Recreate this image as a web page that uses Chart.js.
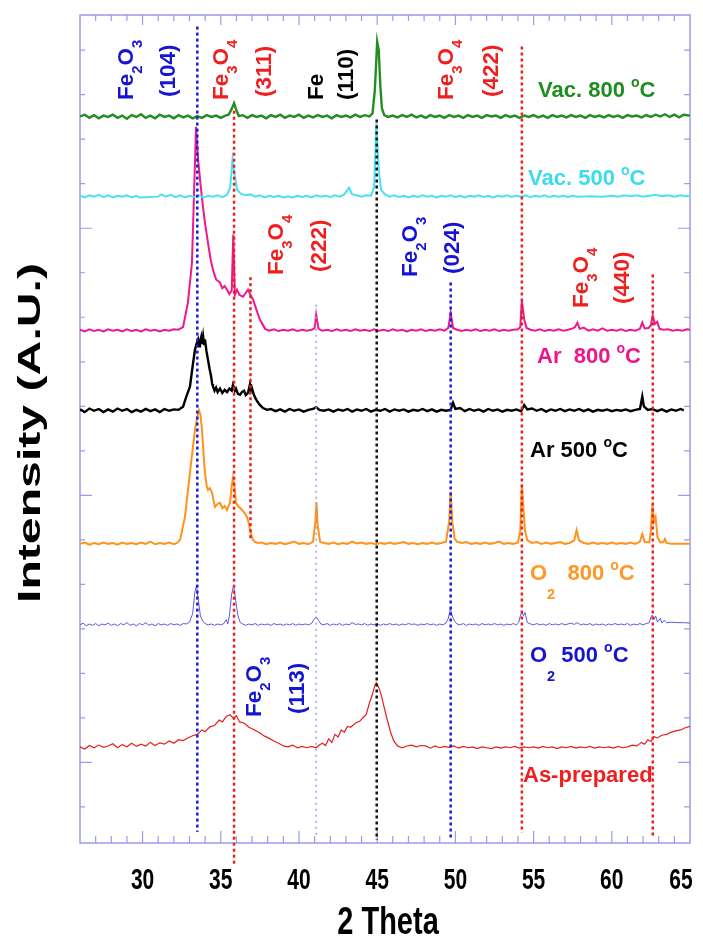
<!DOCTYPE html>
<html>
<head>
<meta charset="utf-8">
<script src="https://cdn.jsdelivr.net/npm/chart.js@4.4.0/dist/chart.umd.min.js"></script>
<style>
  body { margin: 0; background: #fff; }
  #caja { width: 703px; height: 940px; position: relative; }
</style>
</head>
<body>
<div id="caja"><canvas id="grafico"></canvas></div>
<script>
// 2 theta vs intensity, each pattern is shifted up by its baseline
const xTickLabels = [30, 35, 40, 45, 50, 55, 60, 65];
const seriesNames = ["Vac. 800 °C", "Vac. 500 °C", "Ar 800 °C", "Ar 500 °C", "O2 800 °C", "O2 500 °C", "As-prepared"];
const baselines = [15.5, 13.71, 10.7, 8.9, 5.91, 4.09, 1.33];

const vac800 = [[26.0,0.01],[26.3,0.05],[26.6,-0.02],[26.9,0.04],[27.2,-0.03],[27.5,0.03],[27.8,0.0],[28.1,0.05],[28.4,-0.02],[28.7,0.03],[29.0,-0.04],[29.3,0.04],[29.6,0.0],[29.9,0.06],[30.2,-0.02],[30.5,0.03],[30.8,-0.03],[31.1,0.05],[31.4,0.0],[31.7,0.03],[32.0,-0.03],[32.3,0.04],[32.6,-0.01],[32.9,0.03],[33.2,-0.03],[33.5,0.02],[33.8,-0.02],[34.1,0.04],[34.4,0.0],[34.7,0.03],[35.0,-0.02],[35.3,0.03],[35.5,0.05],[35.7,0.18],[35.85,0.31],[36.0,0.15],[36.15,0.02],[36.4,0.04],[36.7,-0.02],[37.0,0.04],[37.3,0.0],[37.6,0.03],[37.9,-0.03],[38.2,0.04],[38.5,0.0],[38.8,0.05],[39.1,-0.02],[39.4,0.03],[39.7,0.0],[40.0,0.05],[40.3,-0.02],[40.6,0.03],[40.9,-0.01],[41.2,0.04],[41.5,0.0],[41.8,0.03],[42.1,-0.03],[42.4,0.04],[42.7,0.0],[43.0,0.03],[43.3,-0.01],[43.6,0.05],[43.9,0.0],[44.2,0.04],[44.5,0.01],[44.7,0.08],[44.85,0.6],[45.0,1.69],[45.1,1.5],[45.2,0.7],[45.3,0.2],[45.45,0.04],[45.7,0.0],[46.0,0.03],[46.3,-0.01],[46.6,0.04],[46.9,0.0],[47.2,0.05],[47.5,-0.01],[47.8,0.03],[48.1,-0.02],[48.4,0.04],[48.7,0.0],[49.0,0.03],[49.3,-0.02],[49.6,0.04],[49.9,0.0],[50.2,0.03],[50.5,-0.02],[50.8,0.04],[51.1,0.0],[51.4,0.03],[51.7,-0.02],[52.0,0.04],[52.3,0.01],[52.6,0.03],[52.9,-0.02],[53.2,0.04],[53.5,0.0],[53.8,0.03],[54.1,-0.02],[54.4,0.03],[54.7,0.0],[55.0,0.04],[55.3,-0.01],[55.6,0.03],[55.9,-0.02],[56.2,0.04],[56.5,0.0],[56.8,0.03],[57.1,-0.01],[57.4,0.04],[57.7,0.0],[58.0,0.03],[58.3,-0.02],[58.6,0.04],[58.9,0.0],[59.2,0.03],[59.5,-0.01],[59.8,0.04],[60.1,0.0],[60.4,0.03],[60.7,-0.02],[61.0,0.04],[61.3,0.01],[61.6,0.03],[61.9,-0.01],[62.2,0.04],[62.5,0.0],[62.8,0.05],[63.1,0.01],[63.4,0.06],[63.7,0.0],[64.0,0.05],[64.3,-0.01],[64.6,0.05],[65.0,0.03]];

const vac500 = [[26.0,0.02],[26.3,-0.02],[26.6,0.03],[26.9,0.0],[27.2,0.04],[27.5,-0.01],[27.8,0.03],[28.1,-0.02],[28.4,0.02],[28.7,0.0],[29.0,0.03],[29.3,-0.02],[29.6,0.02],[29.8,-0.02],[31.0,0.0],[31.2,0.05],[31.5,0.0],[31.8,0.04],[32.1,-0.01],[32.4,0.03],[32.7,-0.02],[33.0,0.02],[33.3,-0.01],[33.6,0.03],[33.9,-0.02],[34.2,0.02],[34.5,0.0],[34.8,0.03],[35.1,-0.01],[35.4,0.04],[35.6,0.2],[35.75,0.83],[35.9,0.45],[36.05,0.15],[36.3,0.06],[36.6,0.03],[36.9,0.05],[37.2,0.0],[37.5,0.03],[37.8,-0.02],[38.1,0.02],[38.4,-0.01],[38.7,0.02],[39.0,-0.02],[39.3,0.01],[39.6,-0.02],[39.9,0.02],[40.2,-0.01],[40.5,0.02],[40.8,-0.02],[41.1,0.03],[41.4,0.0],[41.7,0.02],[42.0,-0.01],[42.3,0.03],[42.6,0.0],[42.9,0.05],[43.2,0.2],[43.4,0.05],[43.7,0.03],[44.0,0.0],[44.3,0.03],[44.6,0.02],[44.8,0.2],[44.95,1.65],[45.1,0.6],[45.25,0.15],[45.5,0.05],[45.8,0.0],[46.1,0.03],[46.4,-0.01],[46.7,0.02],[47.0,-0.02],[47.3,0.02],[47.6,-0.01],[47.9,0.03],[48.2,0.0],[48.5,0.02],[48.8,-0.02],[49.1,0.02],[49.4,0.0],[49.7,0.03],[50.0,-0.01],[50.3,0.02],[50.6,-0.02],[50.9,0.02],[51.2,0.0],[51.5,0.03],[51.8,-0.01],[52.1,0.02],[52.4,-0.02],[52.7,0.02],[53.0,0.0],[53.3,0.03],[53.6,-0.01],[53.9,0.02],[54.2,0.0],[54.5,0.03],[54.8,-0.01],[55.1,0.02],[55.4,0.0],[55.7,0.03],[56.0,-0.01],[56.3,0.02],[56.6,0.0],[56.9,0.02],[57.2,-0.01],[57.5,0.02],[57.8,0.0],[58.6,0.01],[59.4,0.0],[60.0,0.02],[60.4,0.0],[60.8,0.03],[61.2,0.01],[61.6,0.03],[62.0,0.0],[62.4,0.02],[62.8,0.04],[63.2,0.01],[63.6,0.03],[64.0,0.0],[64.4,0.03],[64.7,0.01],[65.0,0.02]];

const ar800 = [[26.0,0.02],[26.3,-0.02],[26.6,0.03],[26.9,-0.01],[27.2,0.02],[27.5,-0.02],[27.8,0.03],[28.1,0.0],[28.4,0.02],[28.7,-0.02],[29.0,0.03],[29.3,-0.01],[29.6,0.02],[29.9,-0.02],[30.2,0.03],[30.5,0.0],[30.8,0.02],[31.1,-0.02],[31.4,0.02],[31.7,0.0],[32.0,0.03],[32.27,0.02],[32.59,0.08],[32.9,0.63],[33.16,1.53],[33.3,3.2],[33.42,4.58],[33.55,3.84],[33.7,3.3],[33.86,2.79],[34.0,2.4],[34.18,1.98],[34.35,1.6],[34.5,1.37],[34.7,1.15],[34.95,1.08],[35.1,0.95],[35.25,1.0],[35.4,0.92],[35.55,0.82],[35.7,0.9],[35.8,2.16],[35.9,0.8],[36.04,0.92],[36.2,0.8],[36.42,0.76],[36.6,0.85],[36.74,0.92],[36.9,0.8],[37.06,0.7],[37.25,0.5],[37.5,0.25],[37.83,0.04],[38.1,0.0],[38.4,0.03],[38.7,-0.01],[39.0,0.02],[39.3,0.0],[39.6,0.03],[39.9,-0.01],[40.2,0.02],[40.5,0.0],[40.8,0.02],[41.0,0.05],[41.1,0.36],[41.25,0.04],[41.5,0.0],[41.8,0.02],[42.1,-0.01],[42.4,0.03],[42.7,0.0],[43.0,0.02],[43.3,-0.01],[43.6,0.03],[43.9,0.0],[44.2,0.02],[44.5,-0.01],[44.8,0.03],[45.1,0.0],[45.4,0.02],[45.7,-0.01],[46.0,0.03],[46.3,0.0],[46.6,0.02],[46.9,-0.02],[47.2,0.02],[47.5,0.0],[47.8,0.03],[48.1,-0.01],[48.4,0.02],[48.7,0.0],[49.0,0.03],[49.3,0.0],[49.55,0.06],[49.7,0.4],[49.85,0.06],[50.1,0.02],[50.4,-0.01],[50.7,0.02],[51.0,0.0],[51.3,0.03],[51.6,-0.01],[51.9,0.02],[52.2,0.0],[52.5,0.03],[52.8,-0.01],[53.1,0.02],[53.4,0.0],[53.7,0.02],[54.0,0.03],[54.15,0.08],[54.25,0.67],[54.4,0.25],[54.55,0.06],[54.8,0.02],[55.1,0.0],[55.4,0.03],[55.7,-0.01],[56.0,0.02],[56.3,0.0],[56.6,0.03],[56.9,0.0],[57.2,0.02],[57.5,0.05],[57.65,0.08],[57.8,0.18],[57.95,0.04],[58.2,0.07],[58.5,0.0],[58.8,0.03],[59.1,0.0],[59.4,0.05],[59.7,0.0],[60.0,0.02],[60.3,0.0],[60.6,0.03],[60.9,-0.01],[61.2,0.02],[61.5,0.0],[61.8,0.04],[61.95,0.18],[62.1,0.05],[62.35,0.06],[62.5,0.12],[62.62,0.34],[62.75,0.15],[62.9,0.2],[63.05,0.04],[63.3,0.02],[63.6,0.03],[63.9,0.0],[64.2,0.02],[64.5,0.0],[64.8,0.03],[65.0,0.02]];

const ar500 = [[26.0,0.03],[26.3,-0.03],[26.6,0.05],[26.9,0.0],[27.2,0.04],[27.5,-0.03],[27.8,0.03],[28.1,-0.02],[28.4,0.05],[28.7,0.0],[29.0,0.04],[29.3,-0.03],[29.6,0.02],[29.9,-0.02],[30.2,0.04],[30.5,-0.01],[30.8,0.03],[31.1,-0.03],[31.4,0.04],[31.7,0.0],[32.0,0.03],[32.3,0.02],[32.59,0.09],[32.78,0.3],[33.03,0.54],[33.2,1.0],[33.35,1.37],[33.45,1.5],[33.55,1.6],[33.62,1.45],[33.67,1.55],[33.75,1.66],[33.8,1.5],[33.87,1.68],[33.93,1.5],[33.99,1.6],[34.08,1.35],[34.18,1.15],[34.28,0.95],[34.37,0.8],[34.45,0.6],[34.5,0.55],[34.6,0.45],[34.7,0.52],[34.8,0.42],[34.95,0.5],[35.1,0.4],[35.25,0.47],[35.4,0.42],[35.55,0.5],[35.7,0.45],[35.78,0.58],[35.9,0.45],[35.97,0.5],[36.1,0.38],[36.23,0.36],[36.35,0.42],[36.49,0.45],[36.6,0.35],[36.74,0.4],[36.82,0.52],[36.87,0.6],[36.93,0.45],[37.0,0.5],[37.1,0.38],[37.19,0.3],[37.35,0.2],[37.5,0.13],[37.7,0.06],[37.96,0.02],[38.2,0.04],[38.5,-0.01],[38.8,0.03],[39.1,-0.02],[39.4,0.04],[39.7,0.0],[40.0,0.03],[40.3,-0.02],[40.6,0.02],[40.9,0.04],[41.1,0.08],[41.3,0.02],[41.6,0.0],[41.9,0.03],[42.2,-0.02],[42.5,0.03],[42.8,0.0],[43.1,0.04],[43.4,-0.02],[43.7,0.03],[44.0,0.0],[44.3,0.04],[44.6,-0.02],[44.9,0.02],[45.2,0.0],[45.5,0.04],[45.8,-0.02],[46.1,0.03],[46.4,0.0],[46.7,0.03],[47.0,-0.02],[47.3,0.02],[47.6,0.0],[47.9,0.04],[48.2,-0.01],[48.5,0.03],[48.8,-0.02],[49.1,0.02],[49.4,0.0],[49.7,0.02],[49.85,0.18],[50.0,0.04],[50.3,0.06],[50.6,-0.01],[50.9,0.04],[51.2,0.0],[51.5,0.03],[51.8,-0.02],[52.1,0.04],[52.4,0.0],[52.7,0.03],[53.0,-0.02],[53.3,0.02],[53.6,0.0],[53.9,0.03],[54.2,-0.01],[54.4,0.13],[54.6,0.03],[54.9,0.05],[55.2,0.0],[55.5,0.04],[55.8,-0.02],[56.1,0.03],[56.4,0.0],[56.7,0.04],[57.0,-0.01],[57.3,0.03],[57.6,0.0],[57.9,0.04],[58.2,-0.01],[58.5,0.03],[58.8,-0.02],[59.1,0.02],[59.4,0.0],[59.7,0.03],[60.0,-0.01],[60.3,0.02],[60.6,0.0],[60.9,0.03],[61.2,-0.01],[61.5,0.02],[61.8,0.04],[61.95,0.32],[62.05,0.1],[62.3,0.02],[62.6,0.04],[62.9,-0.01],[63.2,0.03],[63.5,-0.02],[63.8,0.03],[64.1,0.0],[64.4,0.04],[64.6,0.01]];

const o2800 = [[26.0,0.0],[26.3,0.03],[26.6,-0.02],[26.9,0.02],[27.2,-0.01],[27.5,0.03],[27.8,0.0],[28.1,0.02],[28.4,-0.02],[28.7,0.03],[29.0,0.0],[29.3,0.02],[29.6,-0.01],[29.9,0.03],[30.2,0.0],[30.5,0.05],[30.8,-0.01],[31.1,0.02],[31.4,0.0],[31.7,0.03],[32.0,-0.01],[32.2,0.02],[32.4,0.09],[32.71,0.6],[33.03,1.6],[33.35,2.56],[33.5,2.85],[33.61,3.0],[33.7,2.9],[33.8,2.56],[33.9,2.0],[33.99,1.6],[34.1,1.3],[34.18,1.21],[34.3,1.25],[34.44,1.15],[34.55,0.95],[34.63,0.83],[34.8,0.9],[34.95,0.92],[35.1,0.8],[35.25,0.85],[35.4,0.76],[35.5,0.85],[35.59,0.92],[35.7,1.3],[35.78,1.48],[35.87,1.3],[35.97,0.92],[36.1,0.85],[36.25,0.8],[36.36,0.76],[36.5,0.7],[36.68,0.6],[36.8,0.45],[36.87,0.31],[36.95,0.2],[37.06,0.09],[37.2,0.04],[37.38,0.02],[37.6,0.03],[37.9,-0.01],[38.2,0.02],[38.5,0.0],[38.8,0.03],[39.1,-0.01],[39.4,0.02],[39.7,0.05],[40.0,0.0],[40.3,0.02],[40.6,-0.01],[40.9,0.05],[41.05,0.5],[41.12,0.94],[41.2,0.4],[41.35,0.05],[41.6,0.02],[41.9,0.0],[42.2,0.03],[42.5,-0.01],[42.8,0.02],[43.1,0.0],[43.4,0.05],[43.7,0.01],[44.0,0.03],[44.3,0.0],[44.6,0.02],[44.9,-0.01],[45.2,0.02],[45.5,0.0],[45.8,0.03],[46.1,0.0],[46.4,0.02],[46.7,0.04],[47.0,0.0],[47.3,0.02],[47.6,-0.01],[47.9,0.02],[48.2,0.0],[48.5,0.03],[48.8,0.0],[49.1,0.02],[49.4,0.05],[49.6,0.5],[49.7,1.17],[49.8,0.5],[49.95,0.12],[50.1,0.05],[50.4,0.02],[50.7,0.04],[51.0,0.0],[51.3,0.02],[51.6,0.0],[51.9,0.03],[52.2,0.0],[52.5,0.02],[52.8,0.05],[53.1,0.0],[53.4,0.02],[53.7,0.0],[54.0,0.03],[54.15,0.3],[54.25,1.33],[54.35,0.8],[54.45,0.3],[54.6,0.08],[54.9,0.02],[55.2,0.04],[55.5,0.0],[55.8,0.03],[56.1,0.0],[56.4,0.02],[56.7,0.04],[57.0,0.0],[57.3,0.02],[57.6,0.08],[57.75,0.31],[57.9,0.08],[58.2,0.02],[58.5,0.0],[58.8,0.03],[59.1,0.0],[59.4,0.02],[59.7,0.0],[60.0,0.03],[60.3,0.0],[60.6,0.02],[60.9,0.0],[61.2,0.03],[61.5,0.0],[61.8,0.05],[61.95,0.22],[62.1,0.04],[62.4,0.03],[62.5,0.3],[62.6,0.88],[62.7,0.5],[62.8,0.6],[62.92,0.15],[63.1,0.03],[63.3,0.04],[63.4,0.11],[63.5,0.02],[63.8,0.0],[64.4,0.0],[65.0,0.0]];

const o2500 = [[26.0,0.0],[26.2,0.04],[26.4,-0.02],[26.6,0.02],[26.8,-0.01],[27.0,0.03],[27.2,-0.02],[27.4,0.02],[27.6,0.0],[27.8,0.04],[28.0,-0.01],[28.2,0.02],[28.4,-0.02],[28.6,0.03],[28.8,0.0],[29.0,0.05],[29.2,-0.01],[29.4,0.02],[29.6,-0.02],[29.8,0.03],[30.0,0.0],[30.2,0.05],[30.4,-0.01],[30.6,0.02],[30.8,-0.02],[31.0,0.03],[31.2,0.0],[31.4,0.02],[31.6,-0.01],[31.8,0.03],[32.0,0.0],[32.2,0.02],[32.4,-0.01],[32.6,0.03],[32.8,0.02],[33.0,0.06],[33.2,0.25],[33.35,0.75],[33.45,0.88],[33.55,0.6],[33.7,0.2],[33.85,0.08],[34.0,0.03],[34.2,0.0],[34.4,0.02],[34.6,-0.01],[34.8,0.02],[35.0,0.0],[35.2,0.03],[35.35,0.12],[35.45,0.02],[35.55,0.2],[35.7,0.7],[35.82,0.88],[35.95,0.55],[36.1,0.2],[36.25,0.05],[36.4,0.02],[36.6,-0.01],[36.8,0.02],[37.0,0.0],[37.2,0.03],[37.4,-0.01],[37.6,0.02],[37.8,0.0],[38.0,0.02],[38.2,-0.01],[38.4,0.03],[38.6,0.0],[38.8,0.02],[39.0,-0.01],[39.2,0.02],[39.4,0.0],[39.6,0.03],[39.8,-0.01],[40.0,0.02],[40.2,0.0],[40.4,0.02],[40.6,0.0],[40.8,0.03],[40.95,0.12],[41.1,0.18],[41.25,0.1],[41.4,0.02],[41.6,0.0],[41.8,0.03],[42.0,-0.01],[42.2,0.02],[42.4,0.0],[42.6,0.03],[42.8,-0.01],[43.0,0.02],[43.2,0.0],[43.4,0.05],[43.6,0.01],[43.8,0.02],[44.0,0.0],[44.2,0.03],[44.4,-0.01],[44.6,0.02],[44.8,0.0],[45.0,0.03],[45.2,-0.01],[45.4,0.02],[45.6,0.0],[45.8,0.03],[46.0,0.0],[46.2,0.02],[46.4,-0.01],[46.6,0.02],[46.8,0.0],[47.0,0.03],[47.2,0.01],[47.4,0.02],[47.6,-0.01],[47.8,0.02],[48.0,0.0],[48.2,0.03],[48.4,0.0],[48.6,0.02],[48.8,-0.01],[49.0,0.02],[49.2,0.0],[49.4,0.04],[49.55,0.15],[49.68,0.36],[49.8,0.2],[49.95,0.08],[50.1,0.02],[50.3,0.0],[50.5,0.03],[50.7,-0.01],[50.9,0.02],[51.1,0.0],[51.3,0.02],[51.5,-0.01],[51.7,0.03],[51.9,0.0],[52.1,0.02],[52.3,0.0],[52.5,0.03],[52.7,0.0],[52.9,0.02],[53.1,-0.01],[53.3,0.02],[53.5,0.0],[53.7,0.03],[53.9,0.0],[54.05,0.05],[54.15,0.2],[54.25,0.29],[54.35,0.2],[54.45,0.28],[54.6,0.05],[54.8,0.02],[55.0,0.0],[55.2,0.03],[55.4,0.0],[55.6,0.02],[55.8,-0.01],[56.0,0.03],[56.2,0.0],[56.4,0.02],[56.6,0.0],[56.8,0.03],[57.0,0.0],[57.2,0.02],[57.4,0.04],[57.6,0.01],[57.8,0.05],[58.0,0.0],[58.2,0.02],[58.4,0.0],[58.6,0.03],[58.8,-0.01],[59.0,0.02],[59.2,0.0],[59.4,0.02],[59.6,-0.01],[59.8,0.02],[60.0,0.0],[60.2,0.03],[60.4,0.0],[60.6,0.02],[60.8,0.0],[61.0,0.03],[61.2,-0.01],[61.4,0.02],[61.6,0.0],[61.8,0.03],[62.0,0.0],[62.2,0.03],[62.4,0.05],[62.5,0.18],[62.6,0.22],[62.7,0.12],[62.8,0.2],[62.92,0.06],[63.1,0.15],[63.2,0.04],[63.35,0.1],[63.5,0.05],[63.8,0.06],[64.2,0.05],[64.6,0.05],[65.0,0.04]];

const asPrep = [[26.0,0.02],[26.3,-0.03],[26.6,0.05],[26.9,0.0],[27.2,0.06],[27.5,0.01],[27.8,0.04],[28.1,0.09],[28.4,0.0],[28.7,0.07],[29.0,0.02],[29.3,0.1],[29.6,0.03],[29.9,0.08],[30.2,0.04],[30.5,0.12],[30.8,0.05],[31.1,0.11],[31.4,0.08],[31.7,0.15],[32.0,0.1],[32.3,0.18],[32.6,0.16],[32.9,0.22],[33.2,0.27],[33.5,0.3],[33.8,0.4],[34.0,0.36],[34.3,0.47],[34.6,0.5],[34.9,0.62],[35.1,0.58],[35.35,0.7],[35.6,0.74],[35.8,0.66],[36.0,0.72],[36.2,0.58],[36.5,0.55],[36.8,0.46],[37.1,0.41],[37.5,0.33],[37.8,0.26],[38.1,0.21],[38.4,0.15],[38.7,0.1],[39.0,0.04],[39.3,0.02],[39.6,0.06],[39.9,0.0],[40.2,0.03],[40.5,0.0],[40.8,0.03],[41.1,0.0],[41.3,0.06],[41.5,0.1],[41.7,0.05],[41.9,0.2],[42.1,0.12],[42.3,0.3],[42.5,0.24],[42.7,0.4],[42.9,0.35],[43.1,0.48],[43.3,0.46],[43.6,0.55],[43.9,0.6],[44.1,0.68],[44.3,0.75],[44.5,1.0],[44.7,1.2],[44.85,1.4],[44.95,1.46],[45.1,1.35],[45.25,1.2],[45.45,0.9],[45.65,0.62],[45.85,0.36],[46.05,0.16],[46.3,0.04],[46.6,0.0],[46.9,0.04],[47.2,0.06],[47.5,0.02],[47.8,0.05],[48.1,0.04],[48.4,-0.01],[48.7,0.04],[49.0,0.0],[49.3,0.03],[49.6,0.01],[49.9,0.04],[50.2,-0.01],[50.5,0.03],[50.8,0.0],[51.1,0.02],[51.4,-0.02],[51.7,0.02],[52.0,0.0],[52.3,-0.02],[52.6,0.02],[52.9,-0.01],[53.2,0.02],[53.5,0.0],[53.8,0.03],[54.1,-0.01],[54.4,0.02],[54.7,0.0],[55.0,0.02],[55.3,-0.01],[55.6,0.03],[55.9,0.0],[56.2,0.02],[56.5,-0.02],[56.8,0.02],[57.1,0.0],[57.4,0.03],[57.7,-0.01],[58.0,0.02],[58.3,0.0],[58.6,0.03],[58.9,-0.01],[59.2,0.02],[59.5,0.0],[59.8,0.02],[60.1,-0.01],[60.4,0.03],[60.7,0.0],[61.0,0.02],[61.3,0.06],[61.6,0.04],[61.9,0.12],[62.1,0.08],[62.3,0.18],[62.5,0.14],[62.7,0.25],[62.9,0.22],[63.2,0.28],[63.5,0.3],[63.8,0.35],[64.1,0.38],[64.4,0.4],[64.7,0.45],[65.0,0.48]];

// reflection markers: 2 theta position, top and bottom (same units as y)
const refPos = [33.5, 35.85, 36.9, 41.1, 44.97, 49.7, 54.25, 62.62];
const refTop = [17.53, 15.64, 11.9, 11.28, 15.44, 11.78, 17.08, 11.96];
const refBottom = [-0.56, -1.3, 6.0, -0.67, -0.74, -0.7, -0.58, -0.67];

const series = [vac800, vac500, ar800, ar500, o2800, o2500, asPrep];
const lineColors = ["#238c23", "#4ae2f2", "#ec1a8a", "#000000", "#ff931e", "#5a5adc", "#e41e1e"];
const lineWidths = [2.4, 2, 2, 2.4, 2, 1, 1.2];
const refColors = ["#1a1ad8", "#e82020", "#e82020", "#9a9aee", "#111111", "#1a1ad8", "#e82020", "#e82020"];

const FONT = '"Liberation Sans", Arial, sans-serif';
const FRAME = "#9b9bea";

const datasets = [];
refPos.forEach((x, i) => {
    datasets.push({
        data: [{ x: x, y: refTop[i] }, { x: x, y: refBottom[i] }],
        borderColor: refColors[i],
        borderWidth: i === 3 ? 1.5 : 2.5,
        borderDash: i === 3 ? [2, 4] : [3, 3],
        pointRadius: 0,
        clip: false,
        order: 0
    });
});
series.forEach((pts, i) => {
    datasets.push({
        label: seriesNames[i],
        data: pts.map(p => ({ x: p[0], y: baselines[i] + p[1] })),
        borderColor: lineColors[i],
        borderWidth: lineWidths[i],
        pointRadius: 0,
        tension: 0,
        fill: false,
        order: 1
    });
});

// text in pieces: 0 normal, 1 subscript, 2 superscript
function piezas(ctx, partes, size, x0, base, ejeSub) {
    let x = x0;
    partes.forEach(p => {
        const [txt, modo] = p;
        let s = size, dy = 0;
        if (modo === 1) { s = size * 0.66; dy = ejeSub; }
        if (modo === 2) { s = size * 0.64; dy = -10; }
        ctx.font = "bold " + s + "px " + FONT;
        ctx.fillText(txt, x, base + dy);
        x += ctx.measureText(txt).width;
    });
}

function vertical(ctx, partes, cx, bottom, color) {
    ctx.save();
    ctx.translate(cx, bottom);
    ctx.rotate(-Math.PI / 2);
    ctx.fillStyle = color;
    ctx.textBaseline = "alphabetic";
    ctx.textAlign = "left";
    piezas(ctx, partes, 22.5, 0, 8, 9);
    ctx.restore();
}

function horizontal(ctx, partes, x, base, color) {
    ctx.save();
    ctx.fillStyle = color;
    ctx.textBaseline = "alphabetic";
    ctx.textAlign = "left";
    piezas(ctx, partes, 22, x, base, 19);
    ctx.restore();
}

const marco = {
    id: "marco",
    beforeDatasetsDraw(chart) {
        const { ctx, chartArea: a, scales } = chart;
        ctx.save();
        ctx.strokeStyle = FRAME;
        ctx.lineWidth = 1.5;
        ctx.strokeRect(a.left, a.top, a.right - a.left, a.bottom - a.top);
        ctx.lineWidth = 1.2;
        ctx.beginPath();
        for (let v = 27; v <= 64; v++) {
            const px = scales.x.getPixelForValue(v);
            const len = v % 5 === 0 ? 12 : 7;
            ctx.moveTo(px, a.bottom); ctx.lineTo(px, a.bottom - len);
            ctx.moveTo(px, a.top); ctx.lineTo(px, a.top + (v % 5 === 0 ? 10 : 6));
        }
        for (let v = 0; v <= 17; v++) {
            const py = scales.y.getPixelForValue(v);
            const len = (v - 1) % 6 === 0 ? 12 : 5;
            ctx.moveTo(a.left, py); ctx.lineTo(a.left + len, py);
            ctx.moveTo(a.right, py); ctx.lineTo(a.right - ((v - 1) % 6 === 0 ? 12 : 6), py);
        }
        ctx.stroke();
        ctx.restore();
    },
    afterDraw(chart) {
        const { ctx, chartArea: a, scales } = chart;
        ctx.save();
        ctx.fillStyle = "#000";
        ctx.textAlign = "center";
        ctx.textBaseline = "alphabetic";
        ctx.font = "bold 21px " + FONT;
        xTickLabels.forEach(v => {
            let px = scales.x.getPixelForValue(v);
            px = Math.min(px, 681);
            ctx.save();
            ctx.translate(px, 889);
            ctx.scale(1, 1.4);
            ctx.fillText(String(v), 0, 0);
            ctx.restore();
        });
        // axis titles
        ctx.font = "bold 29px " + FONT;
        ctx.save();
        ctx.translate((a.left + a.right) / 2 + 3, 934);
        ctx.scale(1, 1.35);
        ctx.fillText("2 Theta", 0, 0);
        ctx.restore();

        ctx.font = "bold 32px " + FONT;
        const ytxt = "Intensity (A.U.)";
        const w = ctx.measureText(ytxt).width;
        ctx.save();
        ctx.translate(40, 433);
        ctx.rotate(-Math.PI / 2);
        ctx.scale(340 / w, 1);
        ctx.fillText(ytxt, 0, 0);
        ctx.restore();
        ctx.restore();

        // peak labels
        const azul = "#1414d2", rojo = "#f01e1e";
        vertical(ctx, [["Fe", 0], ["2", 1], ["O", 0], ["3", 1]], 125, 100, azul);
        vertical(ctx, [["(104)", 0]], 167, 97, azul);
        vertical(ctx, [["Fe", 0], ["3", 1], ["O", 0], ["4", 1]], 220, 100, rojo);
        vertical(ctx, [["(311)", 0]], 263, 97, rojo);
        vertical(ctx, [["Fe", 0]], 315, 100, "#000");
        vertical(ctx, [["(110)", 0]], 345, 100, "#000");
        vertical(ctx, [["Fe", 0], ["3", 1], ["O", 0], ["4", 1]], 445, 100, rojo);
        vertical(ctx, [["(422)", 0]], 490, 97, rojo);
        vertical(ctx, [["Fe", 0], ["3", 1], ["O", 0], ["4", 1]], 275, 275, rojo);
        vertical(ctx, [["(222)", 0]], 318, 272, rojo);
        vertical(ctx, [["Fe", 0], ["2", 1], ["O", 0], ["3", 1]], 409, 277, azul);
        vertical(ctx, [["(024)", 0]], 451, 274, azul);
        vertical(ctx, [["Fe", 0], ["3", 1], ["O", 0], ["4", 1]], 580, 308, rojo);
        vertical(ctx, [["(440)", 0]], 621, 304, rojo);
        vertical(ctx, [["Fe", 0], ["2", 1], ["O", 0], ["3", 1]], 253, 717, azul);
        vertical(ctx, [["(113)", 0]], 296, 714, azul);

        // series labels
        horizontal(ctx, [["Vac. 800 ", 0], ["o", 2], ["C", 0]], 538, 97, "#1e8c1e");
        horizontal(ctx, [["Vac. 500 ", 0], ["o", 2], ["C", 0]], 528, 185, "#3cdcf0");
        horizontal(ctx, [["Ar  800 ", 0], ["o", 2], ["C", 0]], 537, 363, "#f0148c");
        horizontal(ctx, [["Ar 500 ", 0], ["o", 2], ["C", 0]], 530, 457, "#000");
        horizontal(ctx, [["O", 0], ["2", 1], ["  800 ", 0], ["o", 2], ["C", 0]], 530, 580, "#ff9626");
        horizontal(ctx, [["O", 0], ["2", 1], [" 500 ", 0], ["o", 2], ["C", 0]], 530, 662, "#1414d2");
        horizontal(ctx, [["As-prepared", 0]], 523, 782, rojo);
    }
};

new Chart(document.getElementById("grafico"), {
    type: "line",
    data: { datasets: datasets },
    options: {
        responsive: true,
        maintainAspectRatio: false,
        animation: false,
        layout: { padding: { left: 80, right: 13, top: 15, bottom: 97 } },
        plugins: { legend: { display: false }, tooltip: { enabled: false } },
        scales: {
            x: { type: "linear", min: 26, max: 65, display: false },
            y: { type: "linear", min: -0.81, max: 17.79, display: false }
        }
    },
    plugins: [marco]
});
</script>
</body>
</html>
